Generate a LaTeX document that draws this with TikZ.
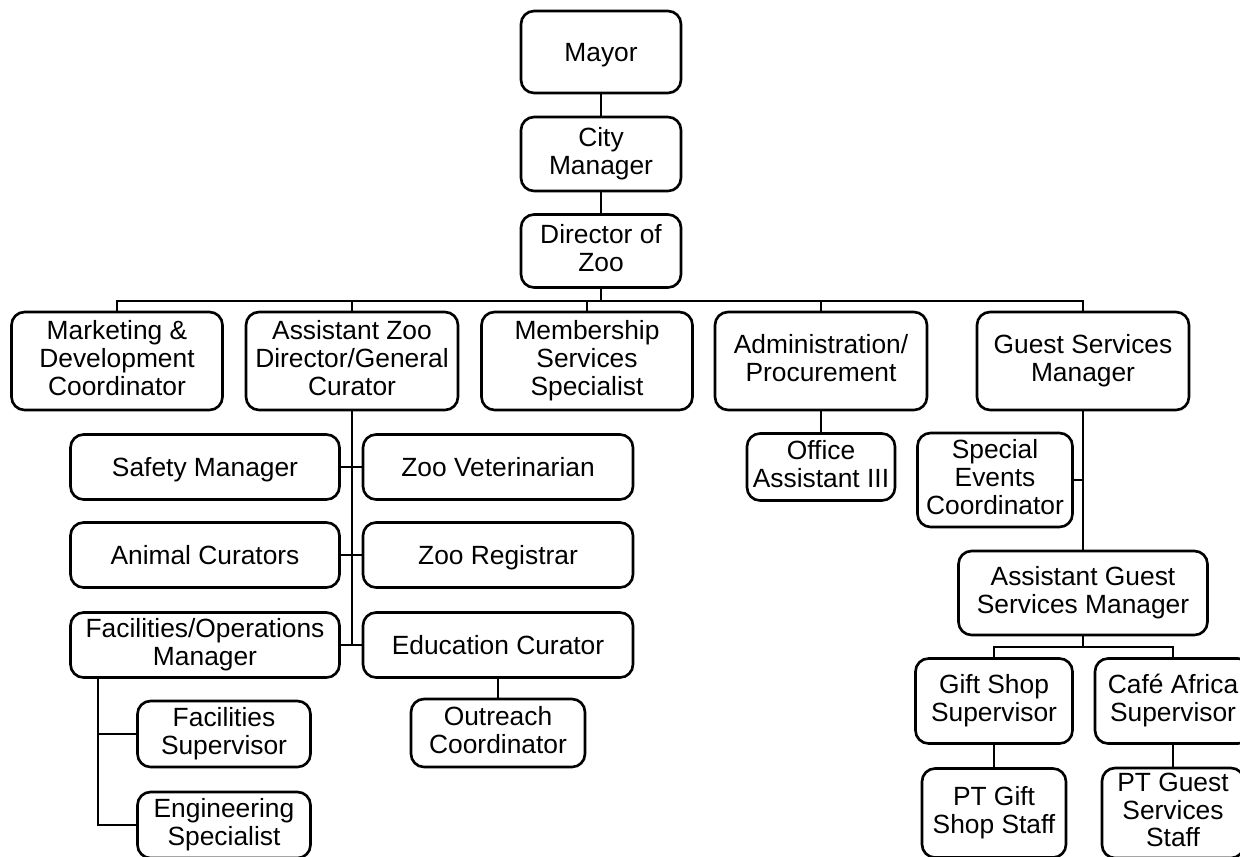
\documentclass[tikz,border=0pt]{standalone}
\usepackage{fontspec}
\setmainfont{Liberation Sans}
\usepackage{tikz}
\usetikzlibrary{calc,positioning}
\tikzset{
myBox/.style={
	rectangle,draw,rounded corners=0.26cm,line width=1.5pt,
	inner sep=0pt,align=center,text=black,
	font=\fontsize{15pt}{15.7pt}\selectfont,
	% same top and bottom for every label
	execute at begin node={\rule{0pt}{14.6pt}},
	execute at end node={\rule[-3.5pt]{0pt}{3.5pt}}
}
, boxSize/.style 2 args={minimum width=#1cm,minimum height=#2cm}
% link
, myLink/.style={line width=1.5pt,color=black}
}

\begin{document}
\begin{tikzpicture}[x=0.02cm,y=-0.02cm]
	\clip (0,0) rectangle (1240,856);
	% top of the chart
	\node[myBox,boxSize={3.2}{1.64}] (Mayor) at (601,52) {Mayor};
	\node[myBox,boxSize={3.2}{1.48}] (CityMgr) at (601,154) {City\\Manager};
	\node[myBox,boxSize={3.2}{1.46}] (Director) at (601,251) {Director of\\Zoo};
	% divisions
	\node[myBox,boxSize={4.22}{1.96}] (Marketing) at (117,361) {Marketing \&\\Development\\Coordinator};
	\node[myBox,boxSize={4.24}{1.96}] (AsstZoo) at (352,361) {Assistant Zoo\\Director/General\\Curator};
	\node[myBox,boxSize={4.22}{1.96}] (Membership) at (587,361) {Membership\\Services\\Specialist};
	\node[myBox,boxSize={4.24}{1.96}] (Admin) at (821,361) {Administration/\\Procurement};
	\node[myBox,boxSize={4.24}{1.96}] (Guest) at (1083,361) {Guest Services\\Manager};
	% curator side
	\node[myBox,boxSize={5.38}{1.3}] (Safety) at (205,467) {Safety Manager};
	\node[myBox,boxSize={5.38}{1.3}] (Animal) at (205,555) {Animal Curators};
	\node[myBox,boxSize={5.38}{1.3}] (Facilities) at (205,645) {Facilities/Operations\\Manager};
	\node[myBox,boxSize={5.4}{1.3}] (Vet) at (498,467) {Zoo Veterinarian};
	\node[myBox,boxSize={5.4}{1.3}] (Registrar) at (498,555) {Zoo Registrar};
	\node[myBox,boxSize={5.4}{1.3}] (Education) at (498,645) {Education Curator};
	\node[myBox,boxSize={3.48}{1.36}] (Outreach) at (498,733) {Outreach\\Coordinator};
	\node[myBox,boxSize={3.46}{1.32}] (FacSup) at (224,734) {Facilities\\Supervisor};
	\node[myBox,boxSize={3.46}{1.32}] (Engineering) at (224,825) {Engineering\\Specialist};
	% admin and guest side
	\node[myBox,boxSize={2.96}{1.34}] (Office) at (821,467) {Office\\Assistant III};
	\node[myBox,boxSize={3.1}{1.88}] (Special) at (995,480) {Special\\Events\\Coordinator};
	\node[myBox,boxSize={4.98}{1.68}] (AsstGuest) at (1083,593) {Assistant Guest\\Services Manager};
	\node[myBox,boxSize={3.14}{1.7}] (GiftSup) at (994,701) {Gift Shop\\Supervisor};
	\node[myBox,boxSize={3.12}{1.7}] (CafeSup) at (1173,701) {Café Africa\\Supervisor};
	\node[myBox,boxSize={2.88}{1.78}] (PTGift) at (994,813) {PT Gift\\Shop Staff};
	\node[myBox,boxSize={2.84}{1.8}] (PTGuest) at (1173,813) {PT Guest\\Services\\Staff};
	% junctions
	\coordinate (Bus) at (601,301);
	\coordinate (GuestBus) at (1083,647);
	\coordinate (FacTrunk) at (98,0);

	% links
	\draw [myLink] (Mayor) -- (CityMgr);
	\draw [myLink] (CityMgr) -- (Director);
	\draw [myLink] (Director.south) -- (Bus);
	\draw [myLink] (Marketing.north) |- (Bus) -| (Guest.north);
	\draw [myLink] (AsstZoo.north) -- (AsstZoo.north |- Bus);
	\draw [myLink] (Membership.north) -- (Membership.north |- Bus);
	\draw [myLink] (Admin.north) -- (Admin.north |- Bus);

	\draw [myLink] (AsstZoo.south) -- (AsstZoo.south |- Facilities.east);
	\draw [myLink] (Safety.east) -- (Vet.west);
	\draw [myLink] (Animal.east) -- (Registrar.west);
	\draw [myLink] (Facilities.east) -- (Education.west);
	\draw [myLink] (Education) -- (Outreach);
	\draw [myLink] (FacTrunk |- Facilities.south) |- (Engineering.west);
	\draw [myLink] (FacTrunk |- FacSup.west) -- (FacSup.west);

	\draw [myLink] (Admin) -- (Office);
	\draw [myLink] (Guest) -- (AsstGuest);
	\draw [myLink] (Special.east) -- (Special.east -| Guest.south);
	\draw [myLink] (AsstGuest.south) -- (GuestBus);
	\draw [myLink] (GiftSup.north) |- (GuestBus) -| (CafeSup.north);
	\draw [myLink] (GiftSup) -- (PTGift);
	\draw [myLink] (CafeSup) -- (PTGuest);
\end{tikzpicture}
\end{document}
